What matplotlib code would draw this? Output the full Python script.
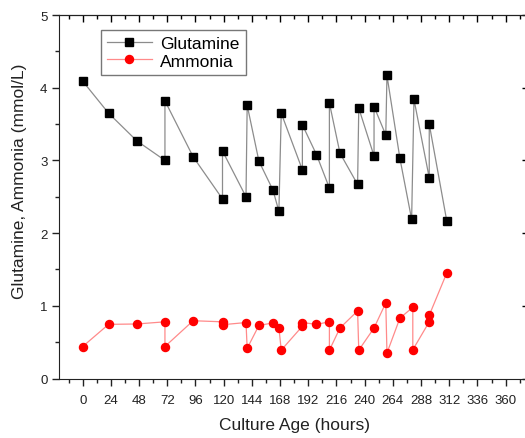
# -*- coding: utf-8 -*-
# imports
import numpy as np
import matplotlib
matplotlib.use('Agg')
import matplotlib.pyplot as plt
from matplotlib.ticker import MultipleLocator

# data
gln_hours = [0, 22, 46, 70, 70, 94, 119, 119, 139, 140, 150, 162, 167, 169,
             187, 187, 199, 210, 210, 219, 234, 235, 248, 248, 258, 259,
             270, 280, 282, 295, 295, 310]
gln_conc = [4.09, 3.65, 3.27, 3.00, 3.82, 3.05, 2.47, 3.13, 2.50, 3.76, 2.99,
            2.59, 2.30, 3.65, 2.87, 3.49, 3.08, 2.62, 3.79, 3.10, 2.67, 3.72,
            3.06, 3.74, 3.35, 4.17, 3.03, 2.19, 3.84, 2.76, 3.50, 2.16]

nh3_hours = [0, 22, 46, 70, 70, 94, 119, 119, 139, 140, 150, 162, 167, 169,
             187, 187, 199, 210, 210, 219, 234, 235, 248, 258, 259, 270,
             281, 281, 295, 295, 310]
nh3_conc = [0.44, 0.745, 0.75, 0.78, 0.44, 0.795, 0.78, 0.74, 0.77, 0.415,
            0.73, 0.765, 0.70, 0.39, 0.72, 0.77, 0.745, 0.78, 0.39, 0.695,
            0.93, 0.39, 0.695, 1.04, 0.35, 0.83, 0.98, 0.395, 0.78, 0.87, 1.455]

x_ticks = np.arange(0, 361, 24)

plt.rcParams['font.family'] = ['Liberation Sans', 'DejaVu Sans']

fig = plt.figure(figsize=(5.25, 4.39), dpi=100)
ax = fig.add_axes([0.1128, 0.1355, 0.895, 0.828])

# series
ax.plot(gln_hours, gln_conc, color='#8c8c8c', lw=0.9, marker='s', ms=5.3,
        mfc='black', mec='black', label='Glutamine')
ax.plot(nh3_hours, nh3_conc, color='#ff8a8a', lw=0.9, marker='o', ms=5.8,
        mfc='red', mec='red', label='Ammonia')

# axes setup
ax.set_xlim(-20, 380)
ax.set_ylim(0, 5)
ax.set_xticks(x_ticks)
ax.xaxis.set_minor_locator(MultipleLocator(12))
ax.yaxis.set_major_locator(MultipleLocator(1))
ax.yaxis.set_minor_locator(MultipleLocator(0.5))
ax.tick_params(which='both', direction='out', labelsize=9.5, colors='#222222',
               top=False, right=False)
ax.tick_params(which='major', length=5, width=1)
ax.tick_params(which='minor', length=3, width=1)
ax.tick_params(axis='x', pad=6)

# inward ticks on top and right spines
sec_x = ax.secondary_xaxis('top')
sec_x.set_xticks(x_ticks)
sec_x.xaxis.set_minor_locator(MultipleLocator(12))
sec_x.tick_params(which='both', direction='in', labeltop=False, width=1)
sec_x.tick_params(which='major', length=5)
sec_x.tick_params(which='minor', length=3)
sec_y = ax.secondary_yaxis('right')
sec_y.yaxis.set_major_locator(MultipleLocator(1))
sec_y.yaxis.set_minor_locator(MultipleLocator(0.5))
sec_y.tick_params(which='both', direction='in', labelright=False, width=1)
sec_y.tick_params(which='major', length=5)
sec_y.tick_params(which='minor', length=3)

for s in ax.spines.values():
    s.set_color('#222222')

ax.set_xlabel('Culture Age (hours)', fontsize=12.5, color='#222222', labelpad=8)
ax.set_ylabel('Glutamine, Ammonia (mmol/L)', fontsize=12.5, color='#222222')
ax.yaxis.set_label_coords(-0.068, 0.545)

leg = ax.legend(loc='upper left', bbox_to_anchor=(0.088, 0.96), fontsize=12.5,
                frameon=True, fancybox=False, edgecolor='#555555',
                handlelength=2.6, borderpad=0.35, labelspacing=0.15,
                handletextpad=0.5, borderaxespad=0)
leg.get_frame().set_linewidth(1)

fig.savefig('out.png', dpi=100)
